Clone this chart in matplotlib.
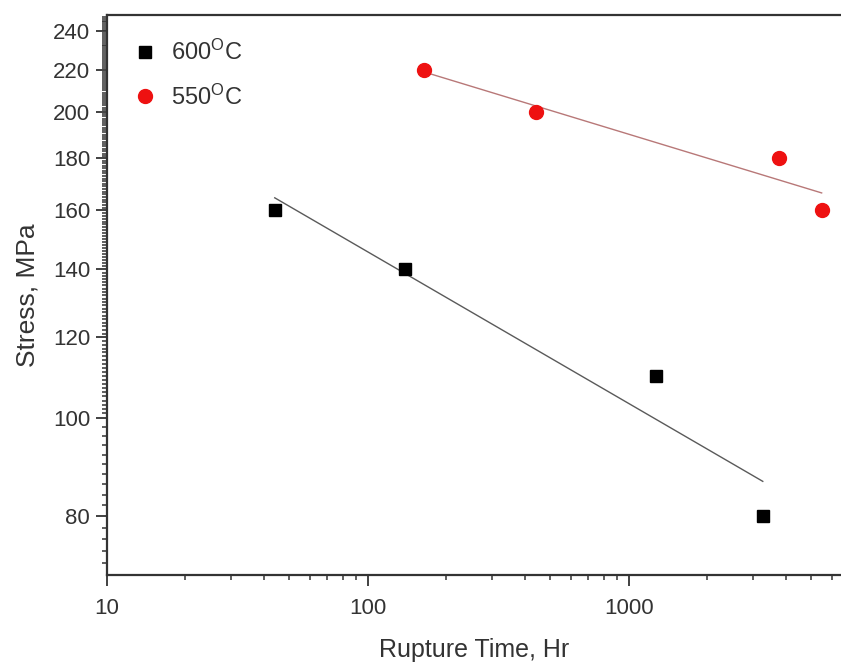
import numpy as np
import matplotlib
matplotlib.use("Agg")
import matplotlib.pyplot as plt
from matplotlib.ticker import FixedLocator, NullFormatter, LogLocator

plt.rcParams['font.family'] = ['Liberation Sans', 'DejaVu Sans']
plt.rcParams['mathtext.default'] = 'regular'

# rupture data
time_600 = [44, 139, 1268, 3260]
stress_600 = [160, 140, 110, 80]
time_550 = [164, 440, 3760, 5480]
stress_550 = [220, 200, 180, 160]

y_ticks = [80, 100, 120, 140, 160, 180, 200, 220, 240]

fig = plt.figure(figsize=(8.41, 6.62), dpi=100)
ax = fig.add_axes([0.127, 0.131, 0.873, 0.846])

txt = '#333333'

# power-law fits (straight in log-log)
def fit_line(t, s, color):
    lt, ls = np.log10(t), np.log10(s)
    k, b = np.polyfit(lt, ls, 1)
    xs = np.array([lt.min(), lt.max()])
    ax.plot(10 ** xs, 10 ** (k * xs + b), color=color, lw=1.0, zorder=2)

fit_line(time_600, stress_600, '#5a5a5a')
fit_line(time_550, stress_550, '#b87878')

ax.plot(time_600, stress_600, 's', color='black', ms=8.5, ls='none',
        label='600$^{O}$C', zorder=3)
ax.plot(time_550, stress_550, 'o', color='#ee1111', ms=10, ls='none',
        label='550$^{O}$C', zorder=3)

ax.set_xscale('log')
ax.set_yscale('log')
ax.set_xlim(10, 6500)
ax.set_ylim(70, 249)

ax.xaxis.set_major_locator(FixedLocator([10, 100, 1000]))
ax.set_xticklabels(['10', '100', '1000'])
ax.xaxis.set_minor_locator(LogLocator(base=10, subs=np.arange(2, 10)))
ax.xaxis.set_minor_formatter(NullFormatter())

ax.yaxis.set_major_locator(FixedLocator(y_ticks))
ax.set_yticklabels([str(v) for v in y_ticks])
ax.yaxis.set_minor_locator(FixedLocator(list(np.arange(72, 100, 2)) +
                                        list(np.arange(101, 249, 1))))
ax.yaxis.set_minor_formatter(NullFormatter())

ax.tick_params(which='major', direction='out', length=8, width=1.3,
               colors='#333333', labelsize=16, labelcolor=txt)
ax.tick_params(axis='y', which='major', pad=4)
ax.tick_params(axis='x', which='major', pad=8)
ax.tick_params(which='minor', direction='out', length=3.5, width=1.1,
               colors='#333333')

ax.spines['right'].set_visible(False)
for s in ['left', 'bottom', 'top']:
    ax.spines[s].set_linewidth(1.6)
    ax.spines[s].set_color('#333333')

ax.set_xlabel('Rupture Time, Hr', fontsize=18, color=txt, labelpad=14)
ax.set_ylabel('Stress, MPa', fontsize=19, color=txt, labelpad=10)

leg = ax.legend(loc='upper left', bbox_to_anchor=(0.01, 0.985), frameon=False,
                fontsize=17, handletextpad=0.5, labelspacing=0.8,
                handlelength=1.2, borderaxespad=0.3)
for t in leg.get_texts():
    t.set_color(txt)

fig.savefig('out.png', dpi=100)
